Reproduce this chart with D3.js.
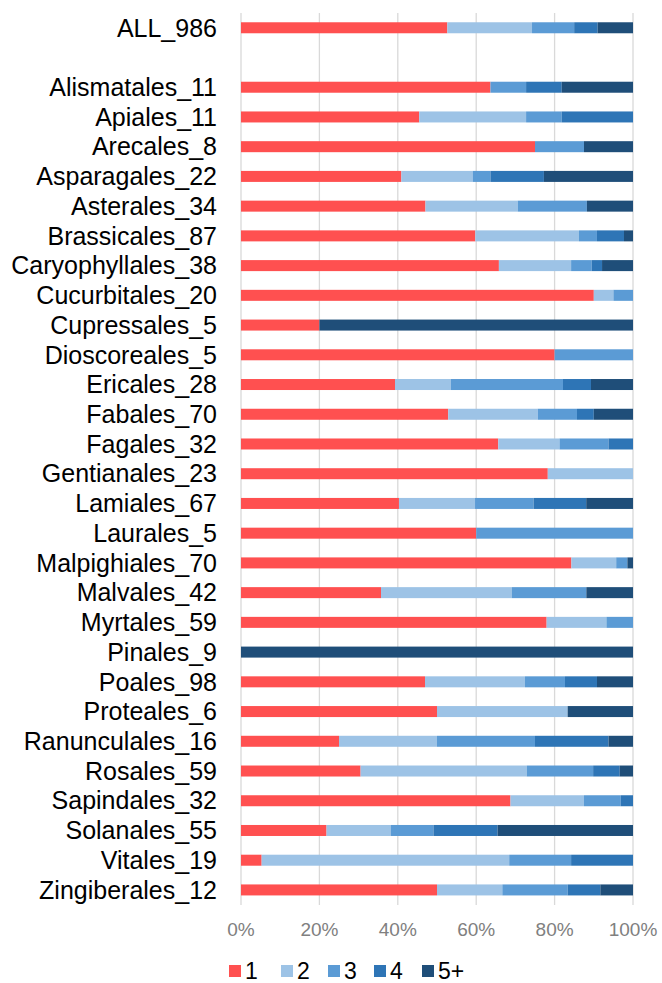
<!DOCTYPE html>
<html><head><meta charset="utf-8">
<script src="https://cdn.jsdelivr.net/npm/d3@7"></script>
<style>
html,body{margin:0;padding:0;background:#fff;}
svg{display:block;font-family:"Liberation Sans",Arial,sans-serif;}
</style></head>
<body>
<svg id="chart" width="662" height="983"></svg>
<script>
const categories = ["ALL_986","","Alismatales_11","Apiales_11","Arecales_8","Asparagales_22","Asterales_34","Brassicales_87","Caryophyllales_38","Cucurbitales_20","Cupressales_5","Dioscoreales_5","Ericales_28","Fabales_70","Fagales_32","Gentianales_23","Lamiales_67","Laurales_5","Malpighiales_70","Malvales_42","Myrtales_59","Pinales_9","Poales_98","Proteales_6","Ranunculales_16","Rosales_59","Sapindales_32","Solanales_55","Vitales_19","Zingiberales_12"];
const seriesNames = ["1","2","3","4","5+"];
const s1  = [519,0,7,5,6,9,16,52,25,18,1,4,11,37,21,18,27,3,59,15,46,0,46,3,4,18,22,12,1,6];
const s2  = [213,0,0,3,0,4,8,23,7,1,0,0,4,16,5,5,13,0,8,14,9,0,25,2,4,25,6,9,12,2];
const s3  = [106,0,1,1,1,1,6,4,2,1,0,1,8,7,4,0,10,2,2,8,4,0,10,0,4,10,3,6,3,2];
const s4  = [59,0,1,2,0,3,0,6,1,0,0,0,2,3,2,0,9,0,0,0,0,0,8,0,3,4,1,9,3,1];
const s5  = [89,0,2,0,1,5,4,2,3,0,4,0,3,7,0,0,8,0,1,5,0,9,9,1,1,2,0,19,0,1];
const colors = ["#FF5050","#9DC3E6","#5B9BD5","#2E75B6","#1F4E79"];
const xTicks = [0,0.2,0.4,0.6,0.8,1.0];

const rows = categories.map((c,i)=>({cat:c, key:"k"+i, "1":s1[i],"2":s2[i],"3":s3[i],"4":s4[i],"5+":s5[i]}));

const svg = d3.select("#chart");
const x = d3.scaleLinear().domain([0,1]).range([241,633]);
const y = d3.scaleBand().domain(rows.map(r=>r.key)).range([12.9,904.8]).paddingInner(0.63).paddingOuter(0.315);

// gridlines
svg.append("g").selectAll("line").data(xTicks).join("line")
  .attr("x1",d=>x(d)).attr("x2",d=>x(d))
  .attr("y1",12.9).attr("y2",905)
  .attr("stroke","#d9d9d9").attr("stroke-width",1.3);

const stack = d3.stack().keys(seriesNames).offset(d3.stackOffsetExpand);
const stacked = stack(rows.filter(r=>r.cat!==""));

svg.append("g").selectAll("g").data(stacked).join("g")
  .attr("fill",(d,i)=>colors[i])
  .selectAll("rect").data(d=>d).join("rect")
  .attr("x",d=>x(d[0]))
  .attr("width",d=>Math.max(0,x(d[1])-x(d[0])))
  .attr("y",d=>y(d.data.key))
  .attr("height",y.bandwidth());

// category labels
svg.append("g").selectAll("text").data(rows.filter(r=>r.cat!=="")).join("text")
  .attr("x",217).attr("y",d=>y(d.key)+y.bandwidth()/2)
  .attr("dy","0.35em").attr("text-anchor","end")
  .attr("font-size",25).attr("fill","#000").text(d=>d.cat);

// x axis tick labels
svg.append("g").selectAll("text").data(xTicks).join("text")
  .attr("x",d=>x(d)).attr("y",929).attr("dy","0.35em")
  .attr("text-anchor","middle").attr("font-size",19).attr("fill","#808080")
  .text(d=>d3.format(".0%")(d));

// legend
const legX = [229,281,328,374,422];
const leg = svg.append("g").selectAll("g").data(seriesNames).join("g")
  .attr("transform",(d,i)=>`translate(${legX[i]},971)`);
leg.append("rect").attr("x",0).attr("y",-6).attr("width",12).attr("height",12).attr("fill",(d,i)=>colors[i]);
leg.append("text").attr("x",16).attr("y",0).attr("dy","0.35em").attr("font-size",23).attr("fill","#000").text(d=>d);
</script>
</body></html>
